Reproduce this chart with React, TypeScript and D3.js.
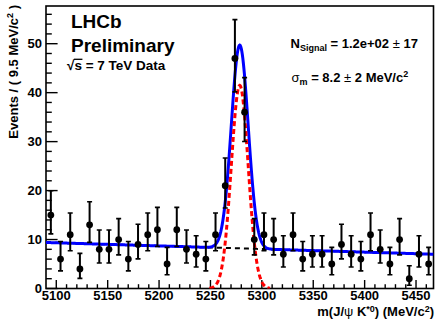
import React, { useEffect, useRef } from 'react';
import * as d3 from 'd3';

// events per bin, 40 bins across the mass window
const counts = [15, 6, 11, 4, 13, 8, 8, 10, 6, 9, 11, 12, 5, 12, 8, 7, 6, 11, 21, 47, 36, 10, 11, 10, 7, 11, 6, 7, 7, 5, 9, 7, 6, 11, 8, 5, 10, 2, 7, 5];
const massRange = [5090, 5467];
const yRange = [0, 57.7];
const xTicks = [5100, 5150, 5200, 5250, 5300, 5350, 5400, 5450];
const yTicks = [0, 10, 20, 30, 40, 50];

// fit result: linear background + gaussian signal
const bkgEnds = [9.4, 7.0];
const sigMean = 5278.5;
const sigSigma = 8.2;
const sigPeak = 41.5;

const FONT = '"Liberation Sans", Arial, Helvetica, sans-serif';

const App = () => {
    const svgRef = useRef<SVGSVGElement>(null);

    useEffect(() => {
        const width = 436;
        const height = 320;
        const margin = { top: 6, right: 2.5, bottom: 31.5, left: 46 };

        const svg = d3.select(svgRef.current);
        svg.selectAll('*').remove();
        svg.attr('width', width).attr('height', height)
            .style('font-family', FONT)
            .style('font-weight', 'bold');

        const x = d3.scaleLinear().domain(massRange).range([margin.left, width - margin.right]);
        const y = d3.scaleLinear().domain(yRange).range([height - margin.bottom, margin.top]);
        const x0 = margin.left, x1 = width - margin.right;
        const y0 = height - margin.bottom, y1 = margin.top;

        svg.append('defs').append('clipPath').attr('id', 'plot-clip')
            .append('rect').attr('x', x0).attr('y', y1).attr('width', x1 - x0).attr('height', y0 - y1);

        // frame
        svg.append('rect')
            .attr('x', x0).attr('y', y1).attr('width', x1 - x0).attr('height', y0 - y1)
            .attr('fill', 'none').attr('stroke', '#000').attr('stroke-width', 1.6);

        // x ticks
        const xMinor = d3.range(5100, massRange[1], 10);
        svg.append('g').selectAll('line').data(xMinor).enter().append('line')
            .attr('x1', d => x(d)).attr('x2', d => x(d))
            .attr('y1', y0).attr('y2', d => y0 - (xTicks.includes(d) ? 8.5 : 4.3))
            .attr('stroke', '#000').attr('stroke-width', 1.4);
        svg.append('g').selectAll('text').data(xTicks).enter().append('text')
            .attr('x', d => x(d)).attr('y', 300)
            .attr('text-anchor', 'middle').style('font-size', '13px')
            .text(d => d);

        // y ticks
        const yMinor = d3.range(0, yRange[1], 2);
        svg.append('g').selectAll('line').data(yMinor).enter().append('line')
            .attr('x1', x0).attr('x2', d => x0 + (d % 10 === 0 ? 11.6 : 5.8))
            .attr('y1', d => y(d)).attr('y2', d => y(d))
            .attr('stroke', '#000').attr('stroke-width', 1.4);
        svg.append('g').selectAll('text').data(yTicks).enter().append('text')
            .attr('x', 42).attr('y', d => y(d)).attr('dy', '0.36em')
            .attr('text-anchor', 'end').style('font-size', '13px')
            .text(d => d);

        // curves
        const bkg = (m: number) => bkgEnds[0] + (bkgEnds[1] - bkgEnds[0]) * (m - massRange[0]) / (massRange[1] - massRange[0]);
        const sig = (m: number) => sigPeak * Math.exp(-0.5 * ((m - sigMean) / sigSigma) ** 2);
        const grid = d3.range(massRange[0], massRange[1] + 0.01, 0.5);
        const sigGrid = grid.filter(m => Math.abs(m - sigMean) < 3.6 * sigSigma);

        const curves = svg.append('g').attr('clip-path', 'url(#plot-clip)');
        curves.append('path')
            .attr('d', d3.line<number>().x(m => x(m)).y(m => y(bkg(m)))(grid))
            .attr('fill', 'none').attr('stroke', '#000').attr('stroke-width', 2)
            .attr('stroke-dasharray', '5,4');
        curves.append('path')
            .attr('d', d3.line<number>().x(m => x(m)).y(m => y(bkg(m) + sig(m)))(grid))
            .attr('fill', 'none').attr('stroke', '#0000ff').attr('stroke-width', 3);
        curves.append('path')
            .attr('d', d3.line<number>().x(m => x(m)).y(m => y(sig(m)))(sigGrid))
            .attr('fill', 'none').attr('stroke', '#ff0000').attr('stroke-width', 3)
            .attr('stroke-dasharray', '5,3');

        // data points with poisson error bars
        const binWidth = (massRange[1] - massRange[0]) / counts.length;
        const pts = counts.map((n, i) => ({
            m: massRange[0] + binWidth * (i + 0.5),
            n,
            lo: n - Math.sqrt(Math.max(n - 0.25, 0)),
            hi: n + Math.sqrt(n + 0.75) + 1
        }));
        const dots = svg.append('g').attr('clip-path', 'url(#plot-clip)');
        dots.selectAll('line.bar').data(pts).enter().append('line')
            .attr('x1', d => x(d.m)).attr('x2', d => x(d.m))
            .attr('y1', d => y(d.lo)).attr('y2', d => y(d.hi))
            .attr('stroke', '#000').attr('stroke-width', 2);
        dots.selectAll('line.cap-hi').data(pts).enter().append('line')
            .attr('x1', d => x(d.m) - 2.5).attr('x2', d => x(d.m) + 2.5)
            .attr('y1', d => y(d.hi)).attr('y2', d => y(d.hi))
            .attr('stroke', '#000').attr('stroke-width', 1.6);
        dots.selectAll('line.cap-lo').data(pts).enter().append('line')
            .attr('x1', d => x(d.m) - 2.5).attr('x2', d => x(d.m) + 2.5)
            .attr('y1', d => y(d.lo)).attr('y2', d => y(d.lo))
            .attr('stroke', '#000').attr('stroke-width', 1.6);
        dots.selectAll('circle').data(pts).enter().append('circle')
            .attr('cx', d => x(d.m)).attr('cy', d => y(d.n)).attr('r', 3.4)
            .attr('fill', '#000');

        // axis titles
        const yt = svg.append('text')
            .attr('transform', 'translate(18.3,5) rotate(-90)')
            .attr('text-anchor', 'end').style('font-size', '13px');
        yt.append('tspan').text('Events / ( 9.5 MeV/c');
        yt.append('tspan').attr('dy', -5).style('font-size', '9px').text('2');
        yt.append('tspan').attr('dy', 5).text(' )');

        const xt = svg.append('text')
            .attr('x', 434).attr('y', 315.5)
            .attr('text-anchor', 'end').style('font-size', '13px');
        xt.append('tspan').text('m(J/');
        xt.append('tspan').style('font-weight', 'normal').text('ψ');
        xt.append('tspan').text(' K');
        xt.append('tspan').attr('dy', -4).style('font-size', '9px').text('*0');
        xt.append('tspan').attr('dy', 4).text(') (MeV/c');
        xt.append('tspan').attr('dy', -4).style('font-size', '9px').text('2');
        xt.append('tspan').attr('dy', 4).text(')');

        // labels
        svg.append('text').attr('x', 71).attr('y', 28.3).style('font-size', '19px').text('LHCb');
        svg.append('text').attr('x', 71).attr('y', 51.5).style('font-size', '19px').text('Preliminary');

        const rs = svg.append('text').attr('x', 67).attr('y', 70).style('font-size', '13.5px').text('√s = 7 TeV Data');
        const rsNode = rs.node() as SVGTextElement;
        const sx0 = rsNode.getStartPositionOfChar(1).x;
        const sx1 = rsNode.getEndPositionOfChar(1).x;
        svg.append('line')
            .attr('x1', sx0 - 0.5).attr('x2', sx1 + 0.5).attr('y1', 59.3).attr('y2', 59.3)
            .attr('stroke', '#000').attr('stroke-width', 1.3);

        const ns = svg.append('text').attr('x', 290.5).attr('y', 48.3).style('font-size', '13px');
        ns.append('tspan').text('N');
        ns.append('tspan').attr('dy', 3).style('font-size', '9px').text('Signal');
        ns.append('tspan').attr('dy', -3).text(' = 1.2e+02 ');
        ns.append('tspan').style('font-weight', 'normal').text('±');
        ns.append('tspan').text(' 17');

        const sm = svg.append('text').attr('x', 291.5).attr('y', 81.7).style('font-size', '13px');
        sm.append('tspan').style('font-weight', 'normal').text('σ');
        sm.append('tspan').attr('dy', 3).style('font-size', '9px').text('m');
        sm.append('tspan').attr('dy', -3).text(' = 8.2 ');
        sm.append('tspan').style('font-weight', 'normal').text('±');
        sm.append('tspan').text(' 2 MeV/c');
        sm.append('tspan').attr('dy', -5).style('font-size', '9px').text('2');
    }, []);

    return (
        <svg ref={svgRef} style={{ position: 'absolute', left: 0, top: 0, background: '#fff' }}></svg>
    );
};

export default App;
